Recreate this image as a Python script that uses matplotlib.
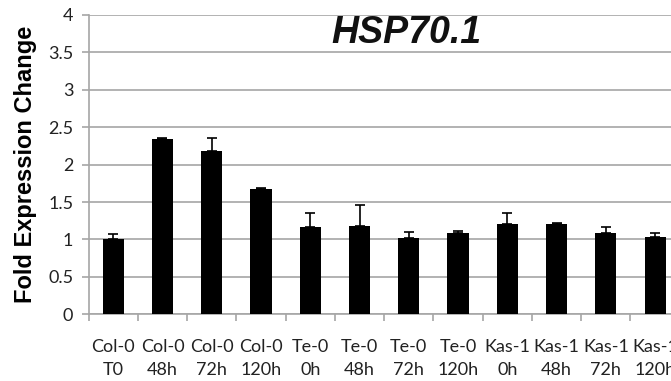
import numpy as np
import matplotlib.pyplot as plt

lines = ['Col-0', 'Col-0', 'Col-0', 'Col-0', 'Te-0', 'Te-0', 'Te-0', 'Te-0',
         'Kas-1', 'Kas-1', 'Kas-1', 'Kas-1']
times = ['T0', '48h', '72h', '120h', '0h', '48h', '72h', '120h',
         '0h', '48h', '72h', '120h']
fold_change = [1.00, 2.34, 2.18, 1.68, 1.17, 1.18, 1.02, 1.08, 1.20, 1.20, 1.08, 1.03]
err = [0.07, 0.02, 0.18, 0.01, 0.18, 0.28, 0.08, 0.03, 0.16, 0.02, 0.09, 0.06]

labels = [f'{a}\n{b}' for a, b in zip(lines, times)]
x = np.arange(len(labels))
grid_col = '#a6a6a6'

fig = plt.figure(figsize=(6.71, 3.81), dpi=100)
ax = fig.add_axes([0.132, 0.175, 0.881, 0.786])

ax.bar(x, fold_change, width=0.43, color='black', zorder=3)
ax.errorbar(x, fold_change, yerr=[np.zeros(len(err)), err], fmt='none',
            ecolor='black', elinewidth=1.2, capsize=3.5, capthick=1.2, zorder=4)

ax.set_xlim(-0.5, len(labels) - 0.5)
ax.set_ylim(0, 4)
ax.set_yticks(np.arange(0, 4.01, 0.5))
ax.set_yticklabels(['0', '0.5', '1', '1.5', '2', '2.5', '3', '3.5', '4'])
ax.yaxis.grid(True, color=grid_col, linewidth=1.2, zorder=0)

ax.set_xticks(x)
ax.set_xticklabels(labels, linespacing=1.55)
ax.set_xticks(np.arange(-0.5, len(labels)), minor=True)
ax.tick_params(axis='x', which='major', length=0, pad=18)
ax.tick_params(axis='x', which='minor', length=5, color=grid_col, width=1.2)
ax.tick_params(axis='y', length=5, color=grid_col, width=1.2, pad=6)
for lab in ax.get_xticklabels() + ax.get_yticklabels():
    lab.set_fontfamily('Lato')
    lab.set_fontsize(13)
    lab.set_color('#222222')

for side in ['top', 'right']:
    ax.spines[side].set_visible(False)
for side in ['left', 'bottom']:
    ax.spines[side].set_color(grid_col)
    ax.spines[side].set_linewidth(1.2)

ax.set_ylabel('Fold Expression Change', fontfamily='Liberation Sans',
              fontweight='bold', fontsize=17, labelpad=8)
ax.text(0.538, 3.76, 'HSP70.1', transform=ax.get_yaxis_transform(),
        ha='center', va='center', fontfamily='Liberation Sans',
        fontweight='bold', fontstyle='italic', fontsize=27, color='#111111')

fig.savefig('out.png', dpi=100)
